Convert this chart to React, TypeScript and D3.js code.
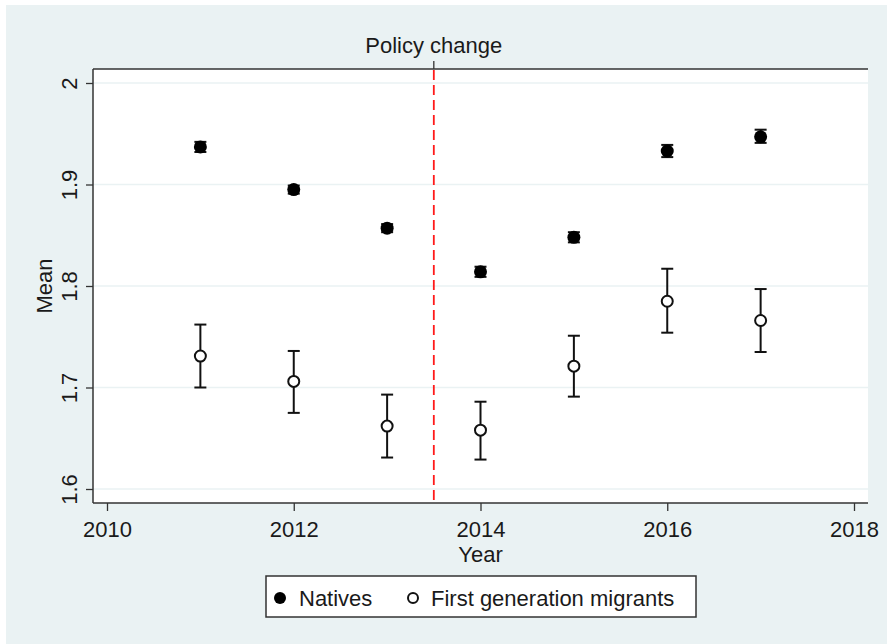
import React, { useRef, useEffect } from "react";
import * as d3 from "d3";

const years = [2011, 2012, 2013, 2014, 2015, 2016, 2017];
const nativeMean = [1.937, 1.895, 1.857, 1.814, 1.848, 1.933, 1.947];
const nativeLo = [1.932, 1.891, 1.853, 1.809, 1.843, 1.927, 1.941];
const nativeHi = [1.942, 1.899, 1.861, 1.819, 1.853, 1.939, 1.954];
const migrantMean = [1.731, 1.706, 1.662, 1.658, 1.721, 1.785, 1.766];
const migrantLo = [1.7, 1.675, 1.631, 1.629, 1.691, 1.754, 1.735];
const migrantHi = [1.762, 1.736, 1.693, 1.686, 1.751, 1.817, 1.797];
const xTicks = [2010, 2012, 2014, 2016, 2018];
const yTicks = [1.6, 1.7, 1.8, 1.9, 2.0];
const policyYear = 2013.5;

const FONT = "'Liberation Sans', Arial, sans-serif";
const FS = 22;

function App() {
  const ref = useRef<SVGSVGElement>(null);

  useEffect(() => {
    const svg = d3.select(ref.current);
    svg.selectAll("*").remove();

    const left = 93, right = 868, top = 69, bottom = 503;

    const x = d3.scaleLinear().domain([2010, 2018]).range([107, 854]);
    const y = d3.scaleLinear().domain([1.6, 2.0]).range([489, 83]);

    // background
    svg.append("rect").attr("x", 6).attr("y", 5).attr("width", 881).attr("height", 639).attr("fill", "#eaf2f3");
    svg.append("rect").attr("x", left).attr("y", top).attr("width", right - left).attr("height", bottom - top).attr("fill", "#ffffff");

    // gridlines
    svg.append("g").selectAll("line").data(yTicks).join("line")
      .attr("x1", left).attr("x2", right)
      .attr("y1", (d) => y(d)).attr("y2", (d) => y(d))
      .attr("stroke", "#eaf2f3").attr("stroke-width", 1.5);

    // y axis
    const yAxis = svg.append("g").attr("transform", `translate(${left},0)`)
      .call(d3.axisLeft(y).tickValues(yTicks).tickSize(7).tickFormat((d) => d3.format("")(+(+d).toFixed(1))));
    yAxis.select(".domain").attr("d", `M0,${top}V${bottom}`).attr("stroke", "#333").attr("stroke-width", 1.5);
    yAxis.selectAll(".tick line").attr("stroke", "#333").attr("stroke-width", 1.3);
    yAxis.selectAll(".tick text")
      .attr("x", null).attr("dy", null)
      .attr("transform", "translate(-24,0) rotate(-90)")
      .attr("text-anchor", "middle")
      .attr("dominant-baseline", "central")
      .attr("font-family", FONT).attr("font-size", FS).attr("fill", "#1a1a1a");

    // x axis
    const xAxis = svg.append("g").attr("transform", `translate(0,${bottom})`)
      .call(d3.axisBottom(x).tickValues(xTicks).tickSize(8).tickFormat(d3.format("d")));
    xAxis.select(".domain").attr("d", `M${left},0H${right}`).attr("stroke", "#333").attr("stroke-width", 1.5);
    xAxis.selectAll(".tick line").attr("stroke", "#333").attr("stroke-width", 1.3);
    xAxis.selectAll(".tick text")
      .attr("y", 26).attr("dy", "0.35em")
      .attr("font-family", FONT).attr("font-size", FS).attr("fill", "#1a1a1a");

    // top axis with policy tick
    svg.append("line").attr("x1", left).attr("x2", right).attr("y1", top).attr("y2", top)
      .attr("stroke", "#333").attr("stroke-width", 1.5);
    svg.append("line").attr("x1", x(policyYear)).attr("x2", x(policyYear)).attr("y1", top - 8).attr("y2", top)
      .attr("stroke", "#333").attr("stroke-width", 1.3);
    svg.append("text").attr("x", x(policyYear)).attr("y", 45)
      .attr("text-anchor", "middle").attr("dominant-baseline", "central")
      .attr("font-family", FONT).attr("font-size", FS).attr("fill", "#1a1a1a")
      .text("Policy change");

    // policy line
    svg.append("line").attr("x1", x(policyYear)).attr("x2", x(policyYear))
      .attr("y1", top + 1).attr("y2", bottom - 1)
      .attr("stroke", "#ff1a1a").attr("stroke-width", 1.8).attr("stroke-dasharray", "10,5");

    // axis titles
    svg.append("text").attr("x", x(2014)).attr("y", 554)
      .attr("text-anchor", "middle").attr("dominant-baseline", "central")
      .attr("font-family", FONT).attr("font-size", FS).attr("fill", "#1a1a1a")
      .text("Year");
    svg.append("text").attr("transform", `translate(44,${(top + bottom) / 2}) rotate(-90)`)
      .attr("text-anchor", "middle").attr("dominant-baseline", "central")
      .attr("font-family", FONT).attr("font-size", FS).attr("fill", "#1a1a1a")
      .text("Mean");

    // error bars
    const drawBars = (lo: number[], hi: number[]) => {
      const g = svg.append("g").attr("stroke", "#111").attr("stroke-width", 2).attr("fill", "none");
      years.forEach((yr, i) => {
        const cx = x(yr);
        g.append("line").attr("x1", cx).attr("x2", cx).attr("y1", y(lo[i])).attr("y2", y(hi[i]));
        g.append("line").attr("x1", cx - 6).attr("x2", cx + 6).attr("y1", y(lo[i])).attr("y2", y(lo[i]));
        g.append("line").attr("x1", cx - 6).attr("x2", cx + 6).attr("y1", y(hi[i])).attr("y2", y(hi[i]));
      });
    };
    drawBars(nativeLo, nativeHi);
    drawBars(migrantLo, migrantHi);

    svg.append("g").selectAll("circle").data(years).join("circle")
      .attr("cx", (d) => x(d)).attr("cy", (d, i) => y(nativeMean[i]))
      .attr("r", 6.5).attr("fill", "#000");
    svg.append("g").selectAll("circle").data(years).join("circle")
      .attr("cx", (d) => x(d)).attr("cy", (d, i) => y(migrantMean[i]))
      .attr("r", 5.5).attr("fill", "#fff").attr("stroke", "#111").attr("stroke-width", 2);

    // legend
    const lg = svg.append("g");
    lg.append("rect").attr("x", 266).attr("y", 576).attr("width", 430).attr("height", 41)
      .attr("fill", "#fff").attr("stroke", "#333").attr("stroke-width", 1.5);
    lg.append("circle").attr("cx", 280).attr("cy", 598).attr("r", 6).attr("fill", "#000");
    lg.append("text").attr("x", 299).attr("y", 598).attr("dominant-baseline", "central")
      .attr("font-family", FONT).attr("font-size", FS).attr("fill", "#1a1a1a").text("Natives");
    lg.append("circle").attr("cx", 413).attr("cy", 598).attr("r", 5).attr("fill", "#fff")
      .attr("stroke", "#111").attr("stroke-width", 2);
    lg.append("text").attr("x", 431).attr("y", 598).attr("dominant-baseline", "central")
      .attr("font-family", FONT).attr("font-size", FS).attr("fill", "#1a1a1a").text("First generation migrants");
  }, []);

  return (
    <svg ref={ref} width="887" height="644" style={{ position: "absolute", left: 0, top: 0, background: "#fff" }}></svg>
  );
}

export default App;
